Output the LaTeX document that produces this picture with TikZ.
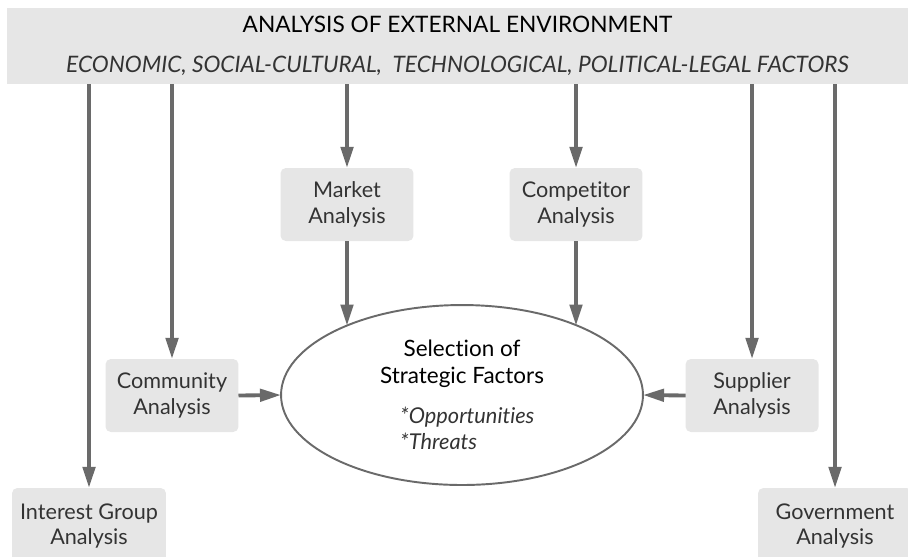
\documentclass[tikz,border=0pt]{standalone}
\usepackage{fontspec}
\setmainfont{Lato}[Ligatures=NoCommon]
\usetikzlibrary{shapes,arrows.meta}
\definecolor{boxgray}{HTML}{E6E6E6}
\definecolor{linegray}{HTML}{6A6A6A}
\definecolor{textgray}{HTML}{333333}
\tikzstyle{factor} = [rectangle, rounded corners=3pt, fill=boxgray, text=textgray, align=center,
    minimum width=2.66cm, minimum height=1.46cm, inner sep=0pt, outer sep=0pt,
    font=\fontsize{12.3}{14.7}\selectfont]
\tikzstyle{arrow} = [line width=2.2pt, draw=linegray, ->, >={Triangle[length=12pt,width=7pt]}]

\begin{document}
\begin{tikzpicture}[x=0.02cm,y=-0.02cm]
    \useasboundingbox (0,0) rectangle (908,556);
    \clip (0,0) rectangle (908,556);
    \node[fill=boxgray, minimum width=18.02cm, minimum height=1.52cm, inner sep=0pt, outer sep=0pt,
        align=center, font=\fontsize{12.9}{14.7}\selectfont]
        (env) at (457.5,46) {ANALYSIS OF EXTERNAL ENVIRONMENT \\[8pt]
        \textit{\textcolor{textgray}{ECONOMIC, SOCIAL-CULTURAL, \ TECHNOLOGICAL, POLITICAL-LEGAL FACTORS}}};
    \node[factor] (market) at (347,204.5) {Market \\ Analysis};
    \node[factor] (competitor) at (576,204.5) {Competitor \\ Analysis};
    \node[factor] (community) at (172,395.5) {Community \\ Analysis};
    \node[factor] (supplier) at (752,395.5) {Supplier \\ Analysis};
    \node[factor, minimum width=3.08cm, minimum height=1.52cm] (interest) at (89,526) {Interest Group \\ Analysis};
    \node[factor, minimum width=3.08cm, minimum height=1.52cm] (government) at (835,526) {Government \\ Analysis};
    \node[draw=linegray, line width=1.1pt, ellipse, minimum width=7.24cm, minimum height=3.6cm,
        inner sep=0pt, outer sep=0pt] (sel) at (462,395) {};
    \node[align=center, font=\fontsize{12.8}{15.2}\selectfont] (seltitle) at (462,364) {Selection of \\ Strategic Factors};
    \node[align=left, anchor=west, text=textgray, font=\fontsize{12.4}{14.7}\selectfont\itshape]
        (selitems) at (394,428) {*Opportunities \\ *Threats};
    % arrows from the environment
    \draw[arrow] (env.south -| interest.north) -- (interest.north);
    \draw[arrow] (env.south -| community.north) -- (community.north);
    \draw[arrow] (env.south -| market.north) -- (market.north);
    \draw[arrow] (env.south -| competitor.north) -- (competitor.north);
    \draw[arrow] (env.south -| supplier.north) -- (supplier.north);
    \draw[arrow] (env.south -| government.north) -- (government.north);
    % arrows into the selection
    \draw[arrow] (market.south) -- (market.south |- sel.149);
    \draw[arrow] (competitor.south) -- (competitor.south |- sel.31);
    \draw[arrow] (community.east) -- (sel.west);
    \draw[arrow] (supplier.west) -- (sel.east);
\end{tikzpicture}
\end{document}
